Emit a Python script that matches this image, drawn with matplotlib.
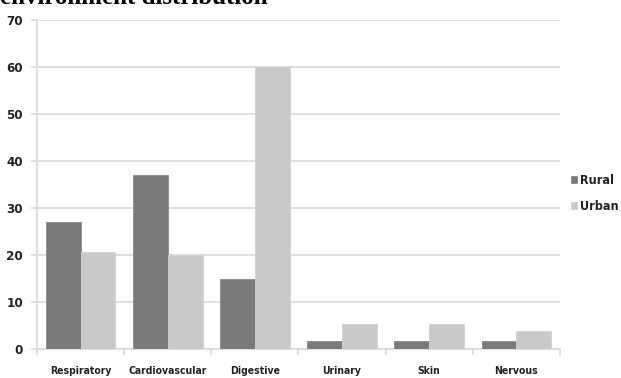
import numpy as np
import matplotlib
matplotlib.use('Agg')
import matplotlib.pyplot as plt

# disease counts by system, rural vs urban
categories = ['Respiratory', 'Cardiovascular', 'Digestive', 'Urinary', 'Skin', 'Nervous']
rural = [27, 37, 15, 1.6, 1.6, 1.6]
urban = [20.7, 20, 60, 5.4, 5.4, 3.8]
yticks = [0, 10, 20, 30, 40, 50, 60, 70]

labelFont = dict(family='DejaVu Sans', stretch='condensed', weight='bold')
gridColor = '#d9d9d9'

fig = plt.figure(figsize=(6.21, 3.78), dpi=100)
ax = fig.add_axes([37/621, 29/378, 523/621, 329/378])

x = np.arange(len(categories))
w = 0.4
ax.bar(x - w/2, rural, width=w, color='#7a7a7a', edgecolor='#8a8a8a', linewidth=0.6,
       label='Rural', zorder=3)
ax.bar(x + w/2, urban, width=w, color='#c9c9c9', edgecolor='#d2d2d2', linewidth=0.6,
       label='Urban', zorder=3)

ax.set_xlim(-0.5, len(categories) - 0.5)
ax.set_ylim(0, 70)
ax.set_yticks(yticks)
ax.set_yticklabels([str(t) for t in yticks], fontsize=9.5, color='#222222', **labelFont)
ax.yaxis.grid(True, color=gridColor, linewidth=1.2, zorder=0)
ax.tick_params(axis='y', length=4, color=gridColor, width=1.2, pad=6)

# category boundaries as minor ticks, labels centered on major
ax.set_xticks(x)
ax.set_xticklabels(categories, fontsize=7.5, color='#222222', **labelFont)
ax.set_xticks(np.arange(-0.5, len(categories), 1), minor=True)
ax.tick_params(axis='x', which='major', length=0, pad=12)
ax.tick_params(axis='x', which='minor', length=4, width=1.2, color=gridColor, direction='out')

for s in ['top', 'right']:
    ax.spines[s].set_visible(False)
for s in ['left', 'bottom']:
    ax.spines[s].set_color(gridColor)
    ax.spines[s].set_linewidth(1.2)

leg = fig.legend(loc='upper left', bbox_to_anchor=(571/621, 1 - 174/378), frameon=False,
                 borderpad=0, borderaxespad=0,
                 handlelength=0.5, handleheight=0.5, handletextpad=0.25, labelspacing=1.05,
                 prop=dict(size=9, **labelFont))
for t in leg.get_texts():
    t.set_color('#222222')

# title, top half sits above the figure edge
fig.text(0, 1 - 4/378, 'environment distribution', family=['Liberation Serif', 'DejaVu Serif'],
         fontsize=18, fontweight='bold', va='baseline', ha='left')

fig.savefig('out.png', dpi=100)
